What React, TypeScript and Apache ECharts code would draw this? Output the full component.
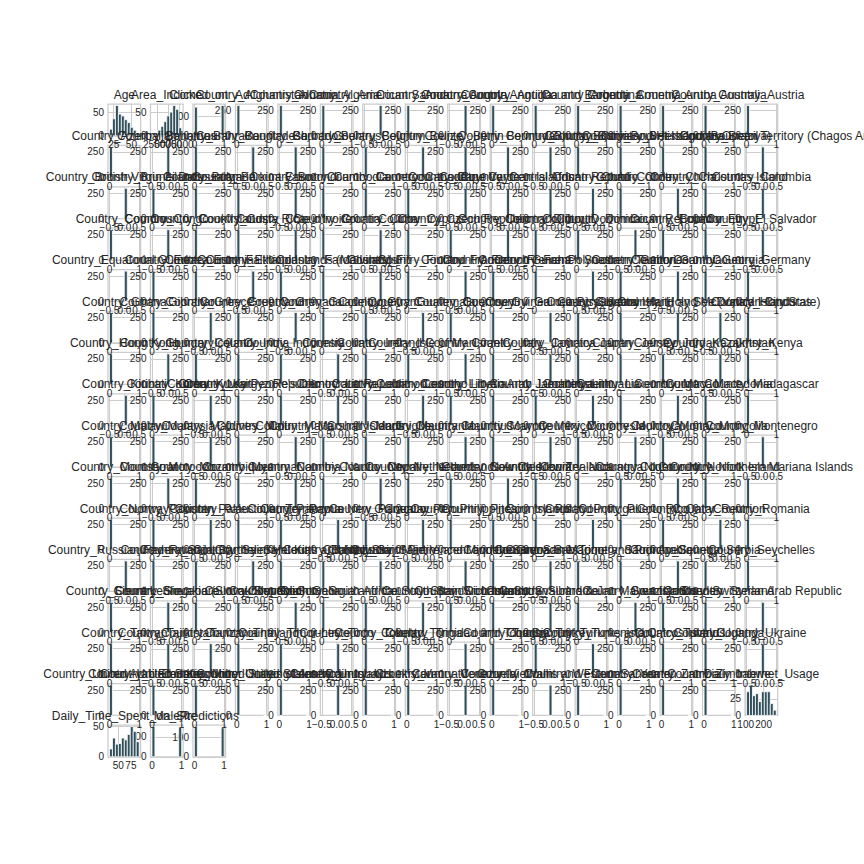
import React, { useEffect, useRef } from 'react';
import * as echarts from 'echarts';

// ---------------- data ----------------
const N_ROWS = 300;

const AGE_RANGE = [19, 61];
const AGE_COUNTS = [14, 36, 64, 46, 42, 34, 28, 18, 12, 6];
const AGE_XTICKS = [25, 50];
const AGE_YTICKS = [0, 50];

const AREA_RANGE = [14000, 79500];
const AREA_COUNTS = [3, 6, 12, 20, 30, 42, 50, 64, 56, 17];
const AREA_XTICKS = [25000, 50000, 75000];
const AREA_YTICKS = [0, 50];

const CLICKED_COUNTS = [146, 154];
const MALE_COUNTS = [152, 148];
const PRED_COUNTS = [153, 147];
const BINARY_XTICKS = [0, 1];
const HALF_YTICKS = [0, 100];

const DIU_RANGE = [104.8, 270.0];
const DIU_COUNTS = [36, 46, 30, 33, 21, 36, 36, 36, 18, 8];
const DIU_XTICKS = [100, 200];
const DIU_YTICKS = [0, 25];

const DTS_RANGE = [32.6, 91.4];
const DTS_COUNTS = [13, 31, 21, 22, 31, 28, 37, 50, 42, 25];
const DTS_XTICKS = [50, 75];
const DTS_YTICKS = [0, 50];

const CONST_XTICKS = [-0.5, 0, 0.5];
const COUNTRY_YTICKS = [0, 250];

const COUNTRIES = [
  'Afghanistan', 'Albania', 'Algeria', 'American Samoa', 'Andorra', 'Angola', 'Anguilla', 'Antigua and Barbuda', 'Argentina', 'Armenia', 'Aruba', 'Australia', 'Austria',
  'Azerbaijan', 'Bahamas', 'Bahrain', 'Bangladesh', 'Barbados', 'Belarus', 'Belgium', 'Belize', 'Benin', 'Bermuda', 'Bhutan', 'Bolivia', 'Bosnia and Herzegovina', 'Bouvet Island (Bouvetoya)', 'Brazil', 'British Indian Ocean Territory (Chagos Archipelago)',
  'British Virgin Islands', 'Brunei Darussalam', 'Bulgaria', 'Burkina Faso', 'Burundi', 'Cambodia', 'Cameroon', 'Canada', 'Cape Verde', 'Cayman Islands', 'Central African Republic', 'Chad', 'Chile', 'China', 'Christmas Island', 'Colombia',
  'Comoros', 'Congo', 'Cook Islands', 'Costa Rica', "Cote d'Ivoire", 'Croatia', 'Cuba', 'Cyprus', 'Czech Republic', 'Denmark', 'Djibouti', 'Dominica', 'Dominican Republic', 'Ecuador', 'Egypt', 'El Salvador',
  'Equatorial Guinea', 'Eritrea', 'Estonia', 'Ethiopia', 'Falkland Islands (Malvinas)', 'Faroe Islands', 'Fiji', 'Finland', 'France', 'French Guiana', 'French Polynesia', 'French Southern Territories', 'Gabon', 'Gambia', 'Georgia', 'Germany',
  'Ghana', 'Gibraltar', 'Greece', 'Greenland', 'Grenada', 'Guadeloupe', 'Guam', 'Guatemala', 'Guernsey', 'Guinea', 'Guinea-Bissau', 'Guyana', 'Haiti', 'Heard Island and McDonald Islands', 'Holy See (Vatican City State)', 'Honduras',
  'Hong Kong', 'Hungary', 'Iceland', 'India', 'Indonesia', 'Iran', 'Ireland', 'Isle of Man', 'Israel', 'Italy', 'Jamaica', 'Japan', 'Jersey', 'Jordan', 'Kazakhstan', 'Kenya',
  'Kiribati', 'Korea', 'Kuwait', 'Kyrgyz Republic', "Lao People's Democratic Republic", 'Latvia', 'Lebanon', 'Lesotho', 'Liberia', 'Libyan Arab Jamahiriya', 'Liechtenstein', 'Lithuania', 'Luxembourg', 'Macao', 'Macedonia', 'Madagascar',
  'Malawi', 'Malaysia', 'Maldives', 'Mali', 'Malta', 'Marshall Islands', 'Martinique', 'Mauritania', 'Mauritius', 'Mayotte', 'Mexico', 'Micronesia', 'Moldova', 'Monaco', 'Mongolia', 'Montenegro',
  'Montserrat', 'Morocco', 'Mozambique', 'Myanmar', 'Namibia', 'Nauru', 'Nepal', 'Netherlands', 'Netherlands Antilles', 'New Caledonia', 'New Zealand', 'Nicaragua', 'Niger', 'Niue', 'Norfolk Island', 'Northern Mariana Islands',
  'Norway', 'Pakistan', 'Palau', 'Palestinian Territory', 'Panama', 'Papua New Guinea', 'Paraguay', 'Peru', 'Philippines', 'Pitcairn Islands', 'Poland', 'Portugal', 'Puerto Rico', 'Qatar', 'Reunion', 'Romania',
  'Russian Federation', 'Rwanda', 'Saint Barthelemy', 'Saint Helena', 'Saint Kitts and Nevis', 'Saint Lucia', 'Saint Martin', 'Saint Pierre and Miquelon', 'Saint Vincent and the Grenadines', 'Samoa', 'San Marino', 'Sao Tome and Principe', 'Saudi Arabia', 'Senegal', 'Serbia', 'Seychelles',
  'Sierra Leone', 'Singapore', 'Slovakia (Slovak Republic)', 'Slovenia', 'Somalia', 'South Africa', 'South Georgia and the South Sandwich Islands', 'Spain', 'Sri Lanka', 'Sudan', 'Suriname', 'Svalbard & Jan Mayen Islands', 'Swaziland', 'Sweden', 'Switzerland', 'Syrian Arab Republic',
  'Taiwan', 'Tajikistan', 'Tanzania', 'Thailand', 'Timor-Leste', 'Togo', 'Tokelau', 'Tonga', 'Trinidad and Tobago', 'Tunisia', 'Turkey', 'Turkmenistan', 'Turks and Caicos Islands', 'Tuvalu', 'Uganda', 'Ukraine',
  'United Arab Emirates', 'United Kingdom', 'United States Minor Outlying Islands', 'United States of America', 'United States Virgin Islands', 'Uruguay', 'Uzbekistan', 'Vanuatu', 'Venezuela', 'Vietnam', 'Wallis and Futuna', 'Western Sahara', 'Yemen', 'Zambia', 'Zimbabwe',
];

// number of rows equal to 1 for each country dummy (0 = column is all zeros)
const COUNTRY_ONES = [
  1, 1, 1, 0, 1, 0, 1, 1, 1, 1, 1, 1, 1,
  1, 0, 1, 0, 0, 1, 1, 0, 0, 0, 0, 1, 1, 1, 1, 0,
  0, 1, 1, 1, 0, 1, 1, 1, 0, 0, 0, 0, 1, 0, 1, 0,
  1, 0, 1, 1, 0, 1, 0, 1, 1, 0, 1, 1, 0, 1, 1, 0,
  0, 1, 1, 0, 1, 1, 0, 1, 0, 1, 1, 0, 1, 0, 1, 1,
  1, 1, 0, 1, 0, 1, 1, 0, 1, 1, 0, 1, 1, 0, 0, 1,
  1, 0, 1, 1, 1, 0, 1, 1, 0, 1, 0, 1, 1, 1, 0, 1,
  0, 1, 0, 1, 1, 0, 1, 0, 1, 1, 1, 0, 1, 0, 1, 1,
  1, 1, 0, 1, 0, 1, 1, 1, 0, 1, 0, 1, 0, 1, 1, 0,
  1, 0, 1, 1, 0, 1, 0, 1, 1, 0, 1, 1, 1, 0, 1, 1,
  1, 1, 0, 1, 1, 0, 1, 0, 1, 1, 1, 0, 1, 1, 0, 1,
  0, 1, 1, 0, 1, 1, 0, 1, 0, 1, 0, 1, 1, 0, 1, 1,
  1, 0, 1, 1, 0, 1, 1, 0, 1, 1, 0, 1, 0, 1, 1, 0,
  1, 0, 0, 1, 1, 0, 1, 1, 0, 1, 1, 0, 1, 1, 1, 0,
  1, 1, 1, 1, 1, 0, 1, 1, 0, 1, 0, 1, 1, 1, 1,
];

// ---------------- layout & style ----------------
const NCOLS = 16;
const LEFT = 108;
const COL_PITCH = 42.47;
const CELL_W = 32.66;
const TOP = 104;
const ROW_PITCH = 41.4;
const CELL_H = 31.85;
const BAR_COLOR = '#32505b';
const GRID_COLOR = '#cccccc';
const TEXT_COLOR = '#262626';
const FONT = "'Liberation Sans', Arial, Helvetica, sans-serif";
const TICK_FONT_SIZE = 10;
const TITLE_FONT_SIZE = 12;

type Col = {
  title: string;
  lo: number;
  hi: number;
  counts: number[];
  xTicks: number[];
  yTicks: number[];
  decimals: number;
};

function binaryCounts(c0: number, c1: number) {
  const arr = new Array(10).fill(0);
  arr[0] = c0;
  arr[9] = c1;
  return arr;
}

function buildColumns(): Col[] {
  const cols: Col[] = [];
  cols.push({ title: 'Age', lo: AGE_RANGE[0], hi: AGE_RANGE[1], counts: AGE_COUNTS, xTicks: AGE_XTICKS, yTicks: AGE_YTICKS, decimals: 0 });
  cols.push({ title: 'Area_Income', lo: AREA_RANGE[0], hi: AREA_RANGE[1], counts: AREA_COUNTS, xTicks: AREA_XTICKS, yTicks: AREA_YTICKS, decimals: 0 });
  cols.push({ title: 'Clicked_on_Ad', lo: 0, hi: 1, counts: binaryCounts(CLICKED_COUNTS[0], CLICKED_COUNTS[1]), xTicks: BINARY_XTICKS, yTicks: HALF_YTICKS, decimals: 0 });
  COUNTRIES.forEach((name, i) => {
    const ones = COUNTRY_ONES[i];
    if (ones > 0) {
      cols.push({ title: 'Country_' + name, lo: 0, hi: 1, counts: binaryCounts(N_ROWS - ones, ones), xTicks: BINARY_XTICKS, yTicks: COUNTRY_YTICKS, decimals: 0 });
    } else {
      const arr = new Array(10).fill(0);
      arr[5] = N_ROWS;
      cols.push({ title: 'Country_' + name, lo: -0.5, hi: 0.5, counts: arr, xTicks: CONST_XTICKS, yTicks: COUNTRY_YTICKS, decimals: 1 });
    }
  });
  cols.push({ title: 'Daily_Internet_Usage', lo: DIU_RANGE[0], hi: DIU_RANGE[1], counts: DIU_COUNTS, xTicks: DIU_XTICKS, yTicks: DIU_YTICKS, decimals: 0 });
  cols.push({ title: 'Daily_Time_Spent_on_Site', lo: DTS_RANGE[0], hi: DTS_RANGE[1], counts: DTS_COUNTS, xTicks: DTS_XTICKS, yTicks: DTS_YTICKS, decimals: 0 });
  cols.push({ title: 'Male', lo: 0, hi: 1, counts: binaryCounts(MALE_COUNTS[0], MALE_COUNTS[1]), xTicks: BINARY_XTICKS, yTicks: HALF_YTICKS, decimals: 0 });
  cols.push({ title: 'Predictions', lo: 0, hi: 1, counts: binaryCounts(PRED_COUNTS[0], PRED_COUNTS[1]), xTicks: BINARY_XTICKS, yTicks: HALF_YTICKS, decimals: 0 });
  return cols;
}

function fmt(v: number, decimals: number) {
  const s = decimals > 0 ? v.toFixed(decimals) : String(Math.round(v));
  return s.replace('-', '\u2212');
}

function buildOption() {
  const cols = buildColumns();
  const grids: any[] = [];
  const xAxes: any[] = [];
  const yAxes: any[] = [];
  const series: any[] = [];
  const graphics: any[] = [];

  cols.forEach((col, i) => {
    const r = Math.floor(i / NCOLS);
    const c = i % NCOLS;
    const left = LEFT + c * COL_PITCH;
    const top = TOP + r * ROW_PITCH;
    grids.push({
      left, top, width: CELL_W, height: CELL_H,
      show: true, borderColor: GRID_COLOR, borderWidth: 1.25, backgroundColor: '#ffffff',
      containLabel: false, outerBoundsMode: 'none',
    });
    const span = col.hi - col.lo;
    const xmin = col.lo - 0.05 * span;
    const xmax = col.hi + 0.05 * span;
    const maxCount = Math.max(...col.counts);
    const ymax = maxCount * 1.05;
    const xTicks = col.xTicks;
    const yTicks = col.yTicks;
    const dec = col.decimals;
    xAxes.push({
      type: 'value', gridIndex: i, min: xmin, max: xmax,
      axisLine: { show: false },
      axisTick: { show: false, customValues: xTicks },
      axisLabel: { show: false, customValues: xTicks },
      splitLine: { show: true, lineStyle: { color: GRID_COLOR, width: 1 } },
    });
    yAxes.push({
      type: 'value', gridIndex: i, min: 0, max: ymax,
      axisLine: { show: false },
      axisTick: { show: false, customValues: yTicks },
      axisLabel: {
        customValues: yTicks, showMinLabel: true, showMaxLabel: true, hideOverlap: false,
        fontSize: TICK_FONT_SIZE, color: TEXT_COLOR, fontFamily: FONT, margin: 4,
        formatter: (v: number) => fmt(v, 0),
      },
      splitLine: { show: true, lineStyle: { color: GRID_COLOR, width: 1 } },
    });
    const bw = span / 10;
    const data = col.counts.map((cnt, k) => [col.lo + k * bw, col.lo + (k + 1) * bw, cnt]);
    series.push({
      type: 'custom', xAxisIndex: i, yAxisIndex: i, z: 2,
      encode: { x: [0, 1], y: 2 },
      data,
      renderItem: (params: any, api: any) => {
        const cnt = api.value(2);
        if (!cnt) return null;
        const a = api.coord([api.value(0), cnt]);
        const b = api.coord([api.value(1), 0]);
        return {
          type: 'rect',
          shape: { x: a[0], y: a[1], width: b[0] - a[0], height: b[1] - a[1] },
          style: { fill: BAR_COLOR, stroke: '#ffffff', lineWidth: 0.8 },
        };
      },
    });
    // x tick labels, placed through the x axis scale
    series.push({
      type: 'custom', xAxisIndex: i, yAxisIndex: i, z: 5, clip: false, silent: true,
      encode: { x: 0, y: 1 },
      data: xTicks.map((v) => [v, 0]),
      renderItem: (params: any, api: any) => {
        const p = api.coord([api.value(0), 0]);
        return {
          type: 'text',
          x: p[0], y: p[1] + 4,
          style: {
            text: fmt(api.value(0), dec), fill: TEXT_COLOR,
            font: `${TICK_FONT_SIZE}px ${FONT}`,
            textAlign: 'center', textVerticalAlign: 'top',
          },
        };
      },
    });
    graphics.push({
      type: 'text', x: left + CELL_W / 2, y: top - 9.5, z: 10,
      style: {
        text: col.title, fill: TEXT_COLOR, font: `${TITLE_FONT_SIZE}px ${FONT}`,
        textAlign: 'center', textVerticalAlign: 'middle',
      },
    });
  });

  return {
    animation: false,
    backgroundColor: '#ffffff',
    grid: grids,
    xAxis: xAxes,
    yAxis: yAxes,
    series,
    graphic: graphics,
  };
}

export default function App() {
  const ref = useRef<HTMLDivElement>(null);
  useEffect(() => {
    if (!ref.current) return;
    const chart = echarts.init(ref.current, undefined, { renderer: 'svg', width: 864, height: 864 });
    chart.setOption(buildOption() as any);
    return () => chart.dispose();
  }, []);
  return (
    <div
      ref={ref}
      style={{ position: 'fixed', left: 0, top: 0, width: 864, height: 864, background: '#ffffff' }}
    />
  );
}
